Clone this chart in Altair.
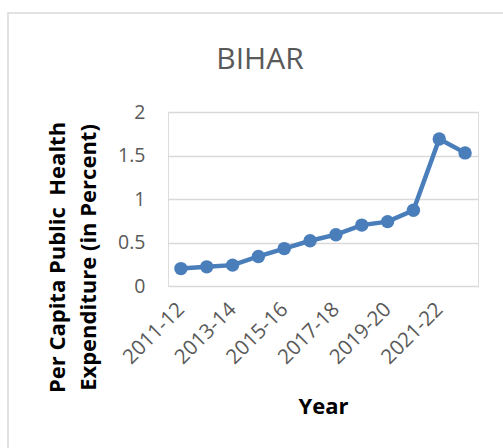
import altair as alt
import pandas as pd

# Per capita public health expenditure, Bihar (in percent)
years = ["2011-12", "2012-13", "2013-14", "2014-15", "2015-16", "2016-17",
         "2017-18", "2018-19", "2019-20", "2020-21", "2021-22", "2022-23"]
values = [0.20, 0.22, 0.24, 0.34, 0.43, 0.52, 0.59, 0.70, 0.74, 0.87, 1.69, 1.53]
y_ticks = [0, 0.5, 1, 1.5, 2]

df = pd.DataFrame({"Year": years, "Value": values})

LINE_COLOR = "#4a7ebb"
TEXT_GREY = "#595959"
FONT = "Open Sans"

base = alt.Chart(df)

x_enc = alt.X(
    "Year:N",
    sort=years,
    scale=alt.Scale(paddingInner=0, paddingOuter=0.5),
    axis=alt.Axis(
        values=years[::2],
        labelAngle=-45,
        labelAlign="right",
        labelBaseline="middle",
        labelFont=FONT,
        labelFontSize=20.5,
        labelColor=TEXT_GREY,
        labelPadding=20,
        ticks=False,
        domain=False,
        grid=False,
        title="Year",
        titleFont=FONT,
        titleFontSize=22,
        titleFontWeight="bold",
        titleColor="#000000",
        titleY=127,
        titleBaseline="alphabetic",
    ),
)

y_enc = alt.Y(
    "Value:Q",
    scale=alt.Scale(domain=[0, 2], nice=False),
    axis=alt.Axis(
        values=y_ticks,
        format=".1~f",
        labelFont=FONT,
        labelFontSize=19.5,
        labelColor=TEXT_GREY,
        labelPadding=23,
        ticks=False,
        domain=False,
        grid=True,
        gridColor="#d9d9d9",
        gridWidth=1.5,
        title=["Per Capita Public\u00a0 Health", "Expenditure (in Percent)"],
        titleFont=FONT,
        titleFontSize=22,
        titleFontWeight="bold",
        titleColor="#000000",
        titleLineHeight=31,
        titleAngle=270,
        titleAlign="center",
        titleBaseline="top",
        titleX=-121,
        titleY=145,
    ),
)

# Outer chart frame
frame = base.mark_rect(
    fill=None, stroke="#d9d9d9", strokeWidth=1.5, clip=False
).encode(
    x=alt.value(-160), x2=alt.value(345), y=alt.value(-99), y2=alt.value(346)
).transform_filter(alt.datum.Year == years[0])

line = base.mark_line(color=LINE_COLOR, strokeWidth=4.5).encode(x=x_enc, y=y_enc)
points = base.mark_circle(color=LINE_COLOR, size=180, opacity=1).encode(x=x_enc, y=y_enc)

chart = alt.layer(frame, line, points).properties(
    width=310,
    height=174,
    title=alt.Title(
        "BIHAR",
        font=FONT,
        fontSize=30,
        fontWeight="normal",
        color=TEXT_GREY,
        anchor="middle",
        baseline="alphabetic",
        dx=-63,
        offset=-87,
    ),
    autosize=alt.AutoSizeParams(type="none"),
    padding={"left": 168, "top": 112, "right": 25, "bottom": 162},
).configure_view(stroke=None).configure(background="white")

chart.save("out.html", embed_options={"renderer": "svg", "actions": False})
